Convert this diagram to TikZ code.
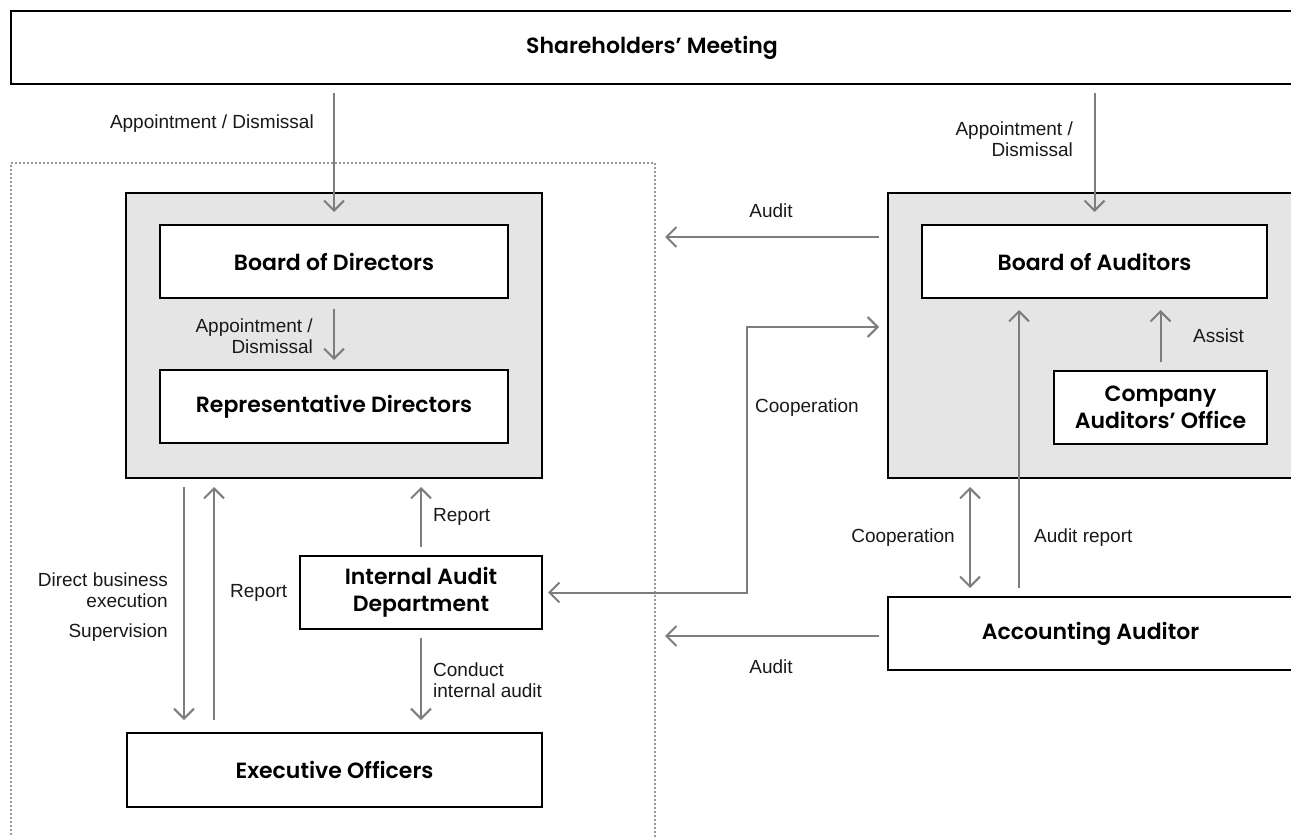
\documentclass[tikz,border=0pt]{standalone}
\usepackage{fontspec}
\setmainfont{Liberation Sans}
\newfontfamily\titlefont{Poppins SemiBold}
\usetikzlibrary{arrows.meta}
\definecolor{arrgray}{RGB}{125,125,125}
\definecolor{boxfill}{RGB}{229,229,229}
\definecolor{dotgray}{RGB}{115,115,115}
\begin{document}
\begin{tikzpicture}[x=1pt,y=-1pt,
 box/.style={draw=black, line width=2.7pt, fill=white, inner sep=0pt, outer sep=0pt,
   font=\titlefont\fontsize{22}{26.5}\selectfont, align=center},
 greybox/.style={draw=black, line width=2.7pt, fill=boxfill, inner sep=0pt, outer sep=0pt},
 frame/.style={draw=dotgray, line width=2.4pt, dash pattern=on 0pt off 4pt, line cap=round, inner sep=0pt, outer sep=0pt},
 arr/.style={draw=arrgray, line width=2pt, -{Straight Barb[length=10pt,width=20pt]}},
 arrboth/.style={draw=arrgray, line width=2pt, {Straight Barb[length=10pt,width=20pt]}-{Straight Barb[length=10pt,width=20pt]}},
 lbl/.style={font=\fontsize{19}{21.5}\selectfont, inner sep=0pt, text=black!90},
]
\useasboundingbox (0,0) rectangle (1291,837);
\fill[white] (0,0) rectangle (1291,837);

% frame
\node[frame, minimum width=644pt, minimum height=697pt] (frame) at (333,511.5) {};

% boxes
\node[box, minimum width=1282pt, minimum height=73pt] (sh) at (652,47.5) {Shareholders’ Meeting};
\node[greybox, minimum width=416pt, minimum height=285pt] (lgrey) at (334,335.5) {};
\node[box, minimum width=348pt, minimum height=73pt] (bod) at (334,261.5) {Board of Directors};
\node[box, minimum width=348pt, minimum height=73pt] (rep) at (334,406.5) {Representative Directors};
\node[box, minimum width=242pt, minimum height=73pt] (iad) at (421,592.5) {Internal Audit\\Department};
\node[box, minimum width=415pt, minimum height=74pt] (exec) at (334.5,770) {Executive Officers};

\node[greybox, minimum width=420pt, minimum height=285pt] (rgrey) at (1098,335.5) {};
\node[box, minimum width=345pt, minimum height=73pt] (boa) at (1094.5,261.5) {Board of Auditors};
\node[box, minimum width=213pt, minimum height=73pt] (cao) at (1160.5,407.5) {Company\\Auditors’ Office};
\node[box, minimum width=405pt, minimum height=73pt] (acc) at (1090.5,633.5) {Accounting Auditor};

% free ends
\coordinate (cp) at (747,327);
\coordinate (au1) at (665,237);
\coordinate (au2) at (665,636);

% arrows
\draw[arr] ([yshift=-9pt]sh.south -| bod.north) -- ([yshift=-19pt]lgrey.north);
\draw[arr] ([yshift=-9pt]sh.south -| boa.north) -- ([yshift=-19pt]boa.north |- rgrey.north);
\draw[arr] ([yshift=-11pt]bod.south) -- ([yshift=10pt]rep.north);
\draw[arr] ([xshift=57pt,yshift=-9pt]lgrey.south -| exec.west) -- ([xshift=57pt,yshift=13pt]exec.north west);
\draw[arr] ([xshift=87pt,yshift=13pt]exec.north west) -- ([xshift=87pt,yshift=-9pt]lgrey.south -| exec.west);
\draw[arr] ([yshift=9pt]iad.north) -- ([yshift=-9pt]iad.north |- lgrey.south);
\draw[arr] ([yshift=-9pt]iad.south) -- ([yshift=13pt]iad.south |- exec.north);
\draw[arrboth] ([xshift=6pt]iad.east) -- (iad.east -| cp) -- (cp) -- ([xshift=-9pt]cp -| rgrey.west);
\draw[arr] ([xshift=-9pt]au1 -| rgrey.west) -- (au1);
\draw[arr] ([xshift=-9pt]au2 -| acc.west) -- (au2);
\draw[arrboth] ([xshift=82pt,yshift=-9pt]rgrey.south west) -- ([xshift=82pt,yshift=9pt]acc.north west);
\draw[arr] ([xshift=131pt,yshift=9pt]acc.north west) -- ([xshift=97pt,yshift=-12pt]boa.south west);
\draw[arr] ([yshift=9pt]cao.north) -- ([yshift=-12pt]boa.south -| cao.north);

% labels
\node[lbl, anchor=east] (l1) at (314,124) {Appointment / Dismissal};
\node[lbl, anchor=east, align=right] (l2) at (1073,139) {Appointment /\\Dismissal};
\node[lbl, anchor=east, align=right] (l3) at (313,336) {Appointment /\\Dismissal};
\node[lbl, anchor=east, align=right] (l4) at (168,590) {Direct business\\execution};
\node[lbl, anchor=east] (l5) at (168,633) {Supervision};
\node[lbl, anchor=west] (l6) at (230,593) {Report};
\node[lbl, anchor=west] (l7) at (433,517) {Report};
\node[lbl, anchor=west, align=left] (l8) at (433,680) {Conduct\\internal audit};
\node[lbl] (l9) at (771,211) {Audit};
\node[lbl, anchor=west] (l10) at (755,408) {Cooperation};
\node[lbl] (l11) at (771,667) {Audit};
\node[lbl, anchor=east] (l12) at (955,538) {Cooperation};
\node[lbl, anchor=west] (l13) at (1034,538) {Audit report};
\node[lbl, anchor=west] (l14) at (1193,336) {Assist};
\end{tikzpicture}
\end{document}
